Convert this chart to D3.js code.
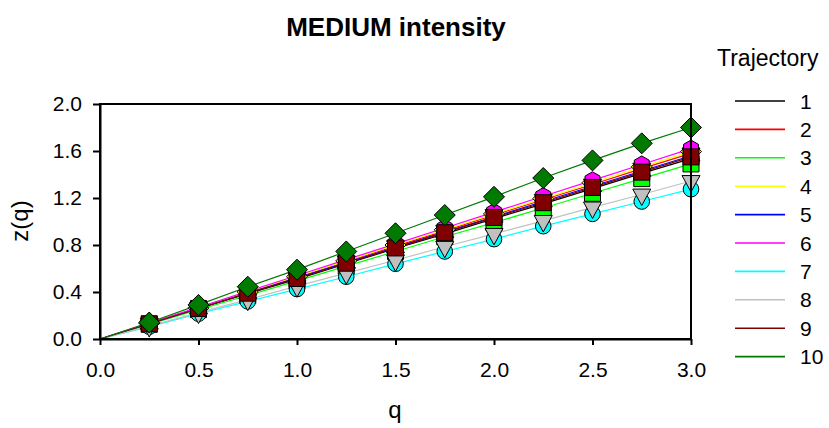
<!DOCTYPE html>
<html>
<head>
<meta charset="utf-8">
<script src="https://cdn.jsdelivr.net/npm/d3@7/dist/d3.min.js"></script>
<style>
  html, body { margin: 0; padding: 0; background: #fff; }
  svg { display: block; font-family: "Liberation Sans", Arial, sans-serif; }
</style>
</head>
<body>
<svg id="chart" width="829" height="428"></svg>
<script>
// q values (the q = 0 point anchors every curve at the origin, no symbol drawn there)
const qValues = [0, 0.25, 0.5, 0.75, 1.0, 1.25, 1.5, 1.75, 2.0, 2.25, 2.5, 2.75, 3.0];

// z(q) for each trajectory
const traj1  = [0, 0.13, 0.26, 0.385, 0.51, 0.64, 0.77, 0.895, 1.025, 1.15, 1.28, 1.41, 1.535];
const traj2  = [0, 0.13, 0.265, 0.395, 0.525, 0.66, 0.79, 0.92, 1.055, 1.185, 1.315, 1.45, 1.58];
const traj3  = [0, 0.125, 0.25, 0.37, 0.495, 0.62, 0.745, 0.87, 0.99, 1.115, 1.24, 1.365, 1.49];
const traj4  = [0, 0.135, 0.265, 0.4, 0.53, 0.665, 0.8, 0.93, 1.065, 1.195, 1.33, 1.465, 1.595];
const traj5  = [0, 0.13, 0.26, 0.39, 0.52, 0.65, 0.78, 0.91, 1.04, 1.17, 1.3, 1.43, 1.56];
const traj6  = [0, 0.135, 0.27, 0.405, 0.54, 0.675, 0.81, 0.945, 1.08, 1.215, 1.35, 1.485, 1.62];
const traj7  = [0, 0.105, 0.215, 0.32, 0.425, 0.53, 0.64, 0.745, 0.85, 0.96, 1.065, 1.17, 1.275];
const traj8  = [0, 0.11, 0.225, 0.335, 0.45, 0.56, 0.67, 0.785, 0.895, 1.005, 1.12, 1.23, 1.345];
const traj9  = [0, 0.13, 0.26, 0.39, 0.515, 0.645, 0.775, 0.905, 1.035, 1.16, 1.29, 1.42, 1.55];
const traj10 = [0, 0.14, 0.29, 0.445, 0.59, 0.745, 0.9, 1.055, 1.21, 1.37, 1.52, 1.665, 1.8];

const trajectoryNames = ["1", "2", "3", "4", "5", "6", "7", "8", "9", "10"];
const trajectoryColors = ["#000000", "#ff0000", "#00ff00", "#ffff00", "#0000ff",
                          "#ff00ff", "#00ffff", "#c0c0c0", "#800000", "#007a00"];
const trajectorySymbols = ["circle", "triangleDown", "square", "diamond", "triangleUp",
                           "hexagon", "circle", "triangleDown", "square", "diamond"];

const xTicks = [0, 0.5, 1.0, 1.5, 2.0, 2.5, 3.0];
const yTicks = [0, 0.4, 0.8, 1.2, 1.6, 2.0];

const series = [traj1, traj2, traj3, traj4, traj5, traj6, traj7, traj8, traj9, traj10]
  .map((vals, i) => ({
    name: trajectoryNames[i],
    color: trajectoryColors[i],
    symbol: trajectorySymbols[i],
    points: vals.map((z, j) => ({ q: qValues[j], z }))
  }));

const svg = d3.select("#chart");

const x = d3.scaleLinear().domain([0, 3]).range([100, 691]);
const y = d3.scaleLinear().domain([0, 2]).range([339, 104]);

// title
svg.append("text")
  .attr("x", 396).attr("y", 36)
  .attr("text-anchor", "middle")
  .attr("font-size", 26).attr("font-weight", "bold")
  .text("MEDIUM intensity");

// lines
const line = d3.line().x(d => x(d.q)).y(d => y(d.z));
svg.append("g").selectAll("path")
  .data(series).join("path")
  .attr("d", d => line(d.points))
  .attr("fill", "none")
  .attr("stroke", d => d.color)
  .attr("stroke-width", 1.2);

// symbols
function symbolPath(kind) {
  switch (kind) {
    case "circle": return "M0,-7.8A7.8,7.8 0 1,1 0,7.8A7.8,7.8 0 1,1 0,-7.8Z";
    case "square": return "M-8,-8H8V8H-8Z";
    case "diamond": return "M0,-10.5L10.5,0L0,10.5L-10.5,0Z";
    case "triangleDown": return "M-9,-5.4H9L0,11Z";
    case "triangleUp": return "M-9,5.4H9L0,-11Z";
    case "hexagon": {
      const r = 8.6;
      return d3.range(6).map(k => {
        const a = Math.PI / 3 * k - Math.PI / 2;
        return (k ? "L" : "M") + (r * Math.cos(a)).toFixed(2) + "," + (r * Math.sin(a)).toFixed(2);
      }).join("") + "Z";
    }
  }
}

const markerGroups = svg.append("g").selectAll("g")
  .data(series).join("g");
markerGroups.selectAll("path")
  .data(d => d.points.filter(p => p.q > 0).map(p => ({ ...p, s: d })))
  .join("path")
  .attr("transform", d => `translate(${x(d.q)},${y(d.z)})`)
  .attr("d", d => symbolPath(d.s.symbol))
  .attr("fill", d => d.s.color)
  .attr("stroke", "#000")
  .attr("stroke-width", 1);

// frame
svg.append("rect")
  .attr("x", 100).attr("y", 104)
  .attr("width", 591).attr("height", 235)
  .attr("fill", "none").attr("stroke", "#000").attr("stroke-width", 2);

// axes
const xAxis = svg.append("g")
  .attr("transform", "translate(0,339)")
  .call(d3.axisBottom(x).tickValues(xTicks).tickFormat(d3.format(".1f"))
    .tickSize(6).tickSizeOuter(0).tickPadding(17));
const yAxis = svg.append("g")
  .attr("transform", "translate(100,0)")
  .call(d3.axisLeft(y).tickValues(yTicks).tickFormat(d3.format(".1f"))
    .tickSize(7).tickSizeOuter(0).tickPadding(11));
[xAxis, yAxis].forEach(g => {
  g.select(".domain").attr("stroke", "#000").attr("stroke-width", 2);
  g.selectAll(".tick line").attr("stroke", "#000").attr("stroke-width", 2);
  g.selectAll(".tick text").attr("font-size", 21).attr("fill", "#000")
    .attr("font-family", "Liberation Sans, Arial, sans-serif");
});

// axis titles
svg.append("text")
  .attr("x", 395).attr("y", 418)
  .attr("text-anchor", "middle").attr("font-size", 24)
  .text("q");
svg.append("text")
  .attr("transform", "translate(28,221) rotate(-90)")
  .attr("text-anchor", "middle").attr("font-size", 24)
  .text("z(q)");

// legend
const legend = svg.append("g");
legend.append("text")
  .attr("x", 717).attr("y", 66)
  .attr("font-size", 23)
  .text("Trajectory");
const rows = legend.selectAll("g.row")
  .data(series).join("g")
  .attr("class", "row")
  .attr("transform", (d, i) => `translate(0,${101 + i * 28.4})`);
rows.append("line")
  .attr("x1", 735).attr("x2", 785)
  .attr("stroke", d => d.color).attr("stroke-width", 1.6);
rows.append("text")
  .attr("x", 800).attr("y", 0).attr("dy", "0.36em")
  .attr("font-size", 21)
  .text(d => d.name);
</script>
</body>
</html>
